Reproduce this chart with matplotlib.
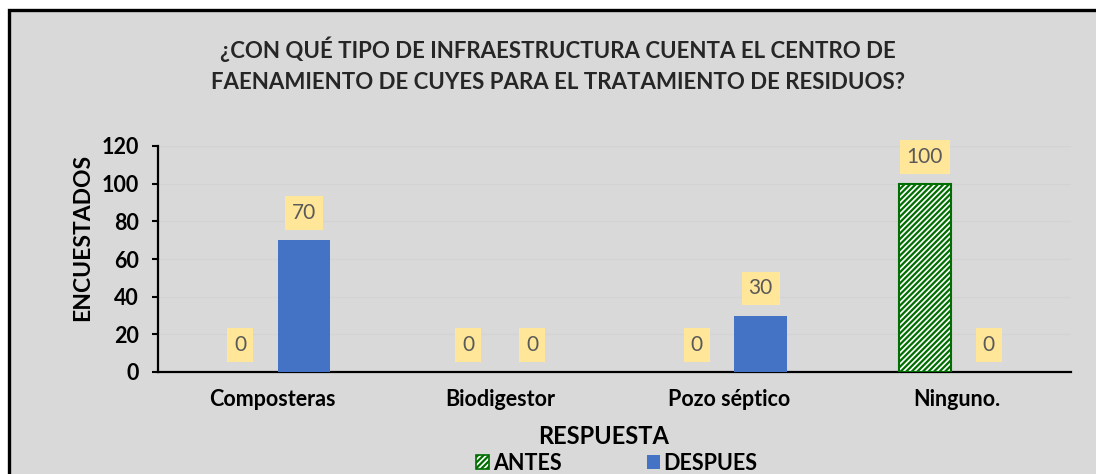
import numpy as np
import matplotlib.pyplot as plt
from matplotlib.patches import Rectangle, Patch

# data
categorias = ['Composteras', 'Biodigestor', 'Pozo séptico', 'Ninguno.']
antes = [0, 0, 0, 100]
despues = [70, 0, 30, 0]
series = ['ANTES', 'DESPUES']
titulo = ('¿CON QUÉ TIPO DE INFRAESTRUCTURA CUENTA EL CENTRO DE\n'
          'FAENAMIENTO DE CUYES PARA EL TRATAMIENTO DE RESIDUOS?')

FONT = 'Lato'
BG = '#d9d9d9'
AZUL = '#4472c4'
VERDE = '#006e00'

plt.rcParams['font.family'] = [FONT, 'DejaVu Sans']
plt.rcParams['hatch.linewidth'] = 1.6

fig = plt.figure(figsize=(10.96, 4.74), dpi=100, facecolor='white')
# chart frame (black border, grey fill), cut by the image edge at right/bottom
fig.patches.append(Rectangle((9 / 1096, -0.1), 1.2, 1.1 - 10 / 474,
                             transform=fig.transFigure, facecolor=BG,
                             edgecolor='black', linewidth=2.4, zorder=-5))

ax = fig.add_axes([158 / 1096, 1 - 372 / 474, (1071 - 158) / 1096, (372 - 146) / 474])
ax.set_facecolor(BG)
ax.set_zorder(2)

x = np.arange(len(categorias))
w = 0.23
d = 0.14
b1 = ax.bar(x - d, antes, w, facecolor='white', edgecolor=VERDE,
            hatch='//////', linewidth=1.5, label=series[0], zorder=3)
b2 = ax.bar(x + d, despues, w, color=AZUL, label=series[1], zorder=3)

for bars in (b1, b2):
    for r in bars:
        v = r.get_height()
        if v == 0:
            r.set_linewidth(0)
            r.set_visible(False)
        ax.annotate(f'{v:g}', (r.get_x() + r.get_width() / 2, v),
                    xytext=(0, 27), textcoords='offset pixels',
                    ha='center', va='center', fontsize=15, color='#595959',
                    bbox=dict(boxstyle='square,pad=0.33', facecolor='#ffe699',
                              edgecolor='none'), zorder=4)

ax.set_xlim(-0.5, len(categorias) - 0.5)
ax.set_ylim(0, 120)
ax.set_yticks(np.arange(0, 121, 20))
ax.set_xticks(x)
ax.set_xticklabels(categorias, fontsize=15.5, fontweight='bold')
ax.tick_params(axis='y', labelsize=15.5, width=1.5, length=4, pad=10, direction='out')
for t in ax.get_yticklabels():
    t.set_fontweight('bold')
ax.tick_params(axis='x', length=0, pad=12)
ax.grid(axis='y', color='#d3d3d3', linewidth=0.8, zorder=0)
ax.set_axisbelow(True)
for s in ('top', 'right'):
    ax.spines[s].set_visible(False)
ax.spines['left'].set_linewidth(1.6)
ax.spines['bottom'].set_linewidth(1.6)

ax.set_ylabel('ENCUESTADOS', fontsize=16.5, fontweight='bold')
ax.yaxis.set_label_coords(83 / 1096, 0.5, transform=fig.transFigure)
ax.yaxis.label.set_va('center')
fig.text(604 / 1096, 1 - 437 / 474, 'RESPUESTA', ha='center', va='center',
         fontsize=17, fontweight='bold', color='black')

fig.text(558 / 1096, 1 - 65 / 474, titulo, ha='center', va='center',
         fontsize=16, fontweight='bold', color='#262626', linespacing=1.6)

handles = [Patch(facecolor='white', edgecolor=VERDE, hatch='//////', linewidth=1.2),
           Patch(facecolor=AZUL)]
fig.legend(handles, series, loc='center', bbox_to_anchor=(617 / 1096, 1 - 463 / 474),
           ncol=2, frameon=False, prop={'size': 15.5, 'weight': 'bold'},
           handlelength=0.6, handleheight=0.6, handletextpad=0.15, columnspacing=4.0,
           borderpad=0, borderaxespad=0)

fig.savefig('out.png', dpi=100, facecolor=fig.get_facecolor())
